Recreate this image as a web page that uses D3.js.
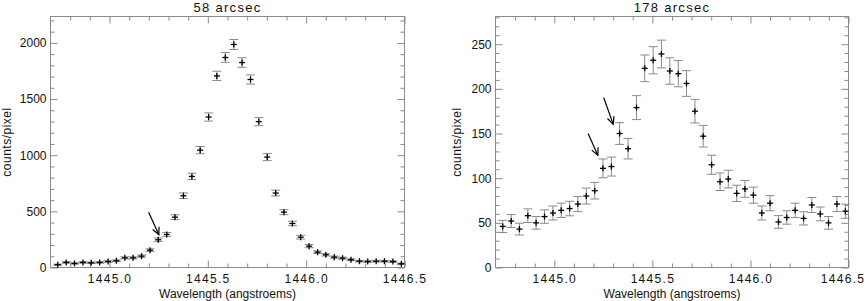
<!DOCTYPE html>
<html><head><meta charset="utf-8">
<script src="https://cdn.jsdelivr.net/npm/d3@7"></script>
<style>
body{margin:0;background:#fff}
svg{display:block;background:#fff}
text{font-family:"Liberation Sans",Arial,sans-serif;fill:#111}
</style>
</head><body><svg id="c" width="867" height="301"></svg>
<script>
// ---- data ----
const wavelength = [1444.737,1444.780,1444.822,1444.865,1444.907,1444.950,1444.993,1445.035,1445.078,1445.120,
  1445.163,1445.206,1445.248,1445.291,1445.333,1445.376,1445.419,1445.461,1445.504,1445.546,
  1445.589,1445.632,1445.674,1445.717,1445.759,1445.802,1445.845,1445.887,1445.930,1445.972,
  1446.015,1446.058,1446.100,1446.143,1446.185,1446.228,1446.271,1446.313,1446.356,1446.398,
  1446.441,1446.484];
const counts58 = [25,45,36,45,42,45,53,60,86,86,101,154,247,294,448,639,811,1045,1340,1706,
  1870,1986,1825,1674,1299,983,663,493,392,270,190,136,113,92,83,69,56,53,56,56,53,33];
const err58 = [5,6.7,6,6.7,6.5,6.7,7.3,7.7,9.3,9.3,10,12.4,15.7,17.1,21.2,25.3,28.5,32.3,36.6,41.3,
  43.2,44.6,42.7,40.9,36,31.4,25.7,22.2,19.8,16.4,13.8,11.7,10.6,9.6,9.1,8.3,7.5,7.3,7.5,7.5,7.3,5.7];
const counts178 = [46,52,43,58,50,57,61,64,66,71,80,86,111,113,150,133,179,223,232,239,
  220,217,206,175,147,115,96,99,83,88,81,61,72,51,56,64,55,70,60,50,71,63];
const err178 = [6.8,7.2,6.6,7.6,7.1,7.5,7.8,8,8.1,8.4,8.9,9.3,10.5,10.6,12.2,11.5,13.4,14.9,15.2,15.5,
  14.8,14.7,14.4,13.2,12.1,10.7,9.8,9.9,9.1,9.4,9,7.8,8.5,7.1,7.5,8,7.4,8.4,7.7,7.1,8.4,7.9];
const xMajorTicks = [1445.0, 1445.5, 1446.0, 1446.5];
const yTicks58 = [0, 500, 1000, 1500, 2000];
const yTicks178 = [0, 50, 100, 150, 200, 250];
const titles = ["58 arcsec", "178 arcsec"];
const xTitle = "Wavelength (angstroems)";
const yTitle = "counts/pixel";
// arrows: [x1, y1, x2(tip), y2(tip)] in data units
const arrows58 = [[1445.199, 493, 1445.251, 292]];
const arrows178 = [[1445.252, 190, 1445.300, 160.5], [1445.172, 150, 1445.222, 125.7]];

// ---- drawing ----
const svg = d3.select("#c");
const AX = "#8a8a8a";

function panel(o) {
  const g = svg.append("g");
  const x = d3.scaleLinear().domain([1444.7, 1446.5]).range([o.x0, o.x1]);
  const y = d3.scaleLinear().domain([0, o.ymax]).range([o.bottom, o.top]);

  const xMinor = d3.range(14448, 14466, 1).map(d => d / 10).filter(d => !xMajorTicks.some(m => Math.abs(m - d) < 1e-6));
  const yMinor = d3.range(0, o.ymax, o.yMinorStep).filter(d => !o.yTicks.includes(d));

  function styleAxis(sel) {
    sel.select(".domain").remove();
    sel.selectAll("line").attr("stroke", AX);
    sel.selectAll("text").attr("fill", "#111").style("font-size", "12px");
  }
  // bottom
  g.append("g").attr("transform", `translate(0,${o.bottom})`)
    .call(d3.axisBottom(x).tickValues(xMajorTicks).tickSize(-7).tickPadding(7).tickFormat(d3.format(".1f")))
    .call(styleAxis)
    .call(s => s.selectAll("text").style("letter-spacing", "1.3px")
      .attr("dx", (d, i) => (o.lastShift && i === xMajorTicks.length - 1) ? o.lastShift : 0));
  g.append("g").attr("transform", `translate(0,${o.bottom})`)
    .call(d3.axisBottom(x).tickValues(xMinor).tickSize(-4).tickFormat("")).call(styleAxis);
  // top
  g.append("g").attr("transform", `translate(0,${o.top})`)
    .call(d3.axisTop(x).tickValues(xMajorTicks).tickSize(-7).tickFormat("")).call(styleAxis);
  g.append("g").attr("transform", `translate(0,${o.top})`)
    .call(d3.axisTop(x).tickValues(xMinor).tickSize(-4).tickFormat("")).call(styleAxis);
  // left
  g.append("g").attr("transform", `translate(${o.x0},0)`)
    .call(d3.axisLeft(y).tickValues(o.yTicks).tickSize(-7).tickPadding(4).tickFormat(d3.format("d"))).call(styleAxis);
  g.append("g").attr("transform", `translate(${o.x0},0)`)
    .call(d3.axisLeft(y).tickValues(yMinor).tickSize(-4).tickFormat("")).call(styleAxis);
  // right
  g.append("g").attr("transform", `translate(${o.x1},0)`)
    .call(d3.axisRight(y).tickValues(o.yTicks).tickSize(-7).tickFormat("")).call(styleAxis);
  g.append("g").attr("transform", `translate(${o.x1},0)`)
    .call(d3.axisRight(y).tickValues(yMinor).tickSize(-4).tickFormat("")).call(styleAxis);
  // frame
  g.append("rect").attr("x", o.x0).attr("y", o.top).attr("width", o.x1 - o.x0).attr("height", o.bottom - o.top)
    .attr("fill", "none").attr("stroke", AX).attr("stroke-width", 1);

  const pts = wavelength.map((w, i) => ({ w, v: o.values[i], e: o.errors[i] }));
  const cap = 4.5, cr = 3;
  const eb = g.append("g").attr("stroke", AX).attr("stroke-width", 1).attr("fill", "none");
  pts.forEach(p => {
    const xx = x(p.w), ylo = y(p.v - p.e), yhi = y(p.v + p.e);
    eb.append("line").attr("x1", xx).attr("x2", xx).attr("y1", ylo).attr("y2", yhi);
    eb.append("line").attr("x1", xx - cap).attr("x2", xx + cap).attr("y1", ylo).attr("y2", ylo);
    eb.append("line").attr("x1", xx - cap).attr("x2", xx + cap).attr("y1", yhi).attr("y2", yhi);
  });
  const cg = g.append("g").attr("stroke", "#000").attr("stroke-width", 1.3);
  pts.forEach(p => {
    const xx = x(p.w), yy = y(p.v);
    cg.append("line").attr("x1", xx - cr).attr("x2", xx + cr).attr("y1", yy).attr("y2", yy);
    cg.append("line").attr("x1", xx).attr("x2", xx).attr("y1", yy - cr).attr("y2", yy + cr);
  });

  // arrows
  const ag = g.append("g").attr("stroke", "#000").attr("stroke-width", 1.2).attr("fill", "none");
  o.arrows.forEach(a => {
    const X1 = x(a[0]), Y1 = y(a[1]), X2 = x(a[2]), Y2 = y(a[3]);
    ag.append("line").attr("x1", X1).attr("y1", Y1).attr("x2", X2).attr("y2", Y2);
    const ang = Math.atan2(Y2 - Y1, X2 - X1), L = 8, da = 0.45;
    ag.append("path").attr("d",
      `M${X2 - L * Math.cos(ang - da)},${Y2 - L * Math.sin(ang - da)}L${X2},${Y2}L${X2 - L * Math.cos(ang + da)},${Y2 - L * Math.sin(ang + da)}`);
  });

  // titles
  const cx = (o.x0 + o.x1) / 2;
  g.append("text").attr("x", cx).attr("y", 12).attr("text-anchor", "middle")
    .style("font-size", "13px").style("letter-spacing", "1.3px").text(o.title);
  g.append("text").attr("x", cx).attr("y", 298).attr("text-anchor", "middle")
    .style("font-size", "12px").text(xTitle);
  g.append("text").attr("transform", `translate(${o.ylx},142) rotate(-90)`).attr("text-anchor", "middle")
    .style("font-size", "12px").style("letter-spacing", "0.5px").text(yTitle);
}

panel({ x0: 50.5, x1: 404.5, top: 16.5, bottom: 267.5, ymax: 2235, yTicks: yTicks58, yMinorStep: 100,
  values: counts58, errors: err58, arrows: arrows58, title: titles[0], ylx: 11 });
panel({ x0: 495.5, x1: 848.5, top: 16.5, bottom: 267.5, ymax: 281, yTicks: yTicks178, yMinorStep: 10,
  values: counts178, errors: err178, arrows: arrows178, title: titles[1], ylx: 461, lastShift: -6 });
</script>
</body></html>
